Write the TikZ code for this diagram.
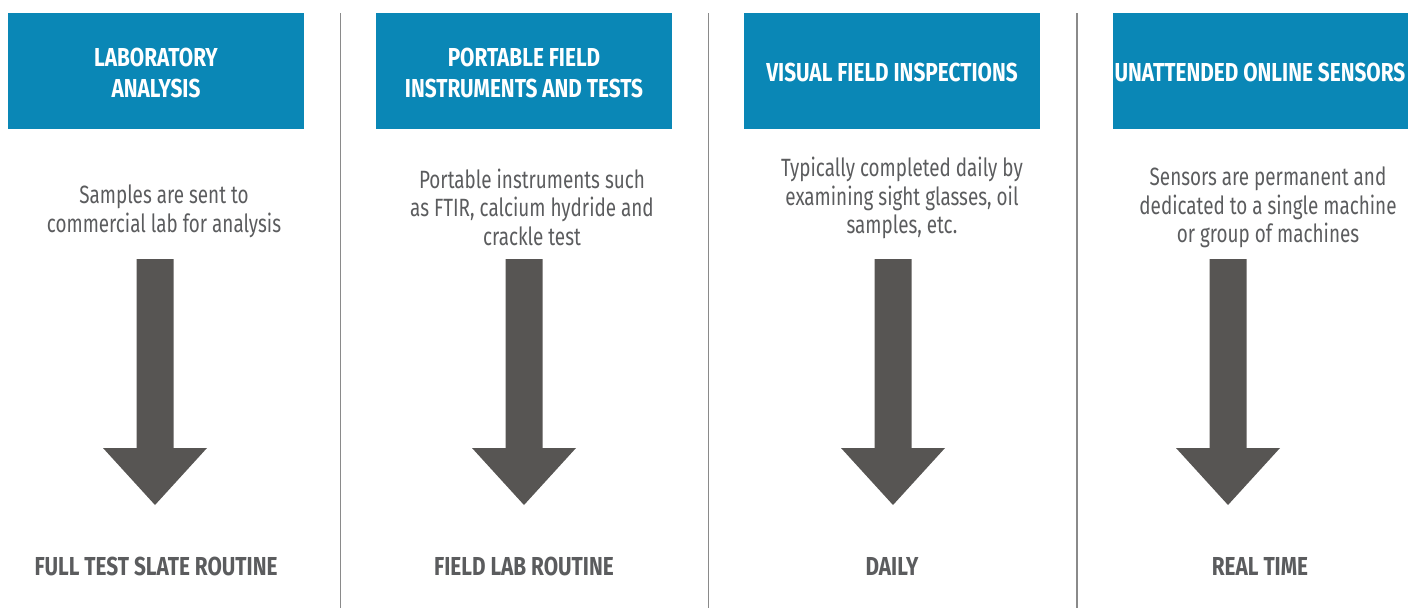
\documentclass[tikz,border=0pt]{standalone}
\usepackage{fontspec}
\newfontfamily\bodyfont{Fira Sans}[FakeStretch=0.755]
\newfontfamily\headfont{Fira Sans}[FakeStretch=0.80]
\definecolor{headblue}{HTML}{0A87B6}
\definecolor{arrowgray}{HTML}{575553}
\definecolor{textgray}{HTML}{5B5C5E}
\definecolor{rulegray}{HTML}{8A8A8A}
\tikzset{
  headbox/.style={fill=headblue, minimum width=296pt, minimum height=116pt,
    inner sep=0pt},
  headtext/.style={text=white, align=center, inner sep=0pt,
    font=\headfont\bfseries\fontsize{26}{31}\selectfont},
  bodytext/.style={text=textgray, align=center, inner sep=0pt,
    font=\bodyfont\fontsize{25}{28.5}\selectfont},
  resulttext/.style={text=textgray, inner sep=0pt,
    font=\headfont\bfseries\fontsize{26}{30}\selectfont},
  colrule/.style={draw=rulegray, line width=1.3pt},
  downarrow/.pic={
    \fill[arrowgray] (-18.5,259) -- (18.5,259) -- (18.5,448) -- (52,448)
      -- (0,505) -- (-52,448) -- (-18.5,448) -- cycle;
  }
}
\begin{document}
\begin{tikzpicture}[x=1pt, y=-1pt]
  \useasboundingbox (0,0) rectangle (1408,608);

  % column separators
  \coordinate (r1t) at (340.5,13); \coordinate (r1b) at (340.5,608);
  \coordinate (r2t) at (708.7,13); \coordinate (r2b) at (708.7,608);
  \coordinate (r3t) at (1077,13);  \coordinate (r3b) at (1077,608);
  \draw[colrule] (r1t) -- (r1b);
  \draw[colrule] (r2t) -- (r2b);
  \draw[colrule] (r3t) -- (r3b);

  % header boxes and their titles
  \node[headbox] (h1) at (156,71) {};
  \node[headbox] (h2) at (524,71) {};
  \node[headbox] (h3) at (892,71) {};
  \node[headbox] (h4) at (1261,71) {};
  \node[headtext] (t1) at (156,72.5) {LABORATORY\\ANALYSIS};
  \node[headtext] (t2) at (524,72.5) {PORTABLE FIELD\\INSTRUMENTS AND TESTS};
  \node[headtext] (t3) at (892,72.5) {VISUAL FIELD INSPECTIONS};
  \node[headtext] (t4) at (1260,72.5) {UNATTENDED ONLINE SENSORS};

  % descriptions
  \node[bodytext] (d1) at (164,211.5) {Samples are sent to\\commercial lab for analysis};
  \node[bodytext] (d2) at (532,207) {Portable instruments such\\as FTIR, calcium hydride and\\crackle test};
  \node[bodytext] (d3) at (902,198) {Typically completed daily by\\examining sight glasses, oil\\samples, etc.};
  \node[bodytext] (d4) at (1268,207.5) {Sensors are permanent and\\dedicated to a single machine\\or group of machines};

  % block arrows
  \pic at (155,0) {downarrow};
  \pic at (524,0) {downarrow};
  \pic at (893,0) {downarrow};
  \pic at (1228,0) {downarrow};

  % routines
  \node[resulttext] (o1) at (156,566) {FULL TEST SLATE ROUTINE};
  \node[resulttext] (o2) at (524,566) {FIELD LAB ROUTINE};
  \node[resulttext] (o3) at (892,566) {DAILY};
  \node[resulttext] (o4) at (1260,566) {REAL TIME};
\end{tikzpicture}
\end{document}
